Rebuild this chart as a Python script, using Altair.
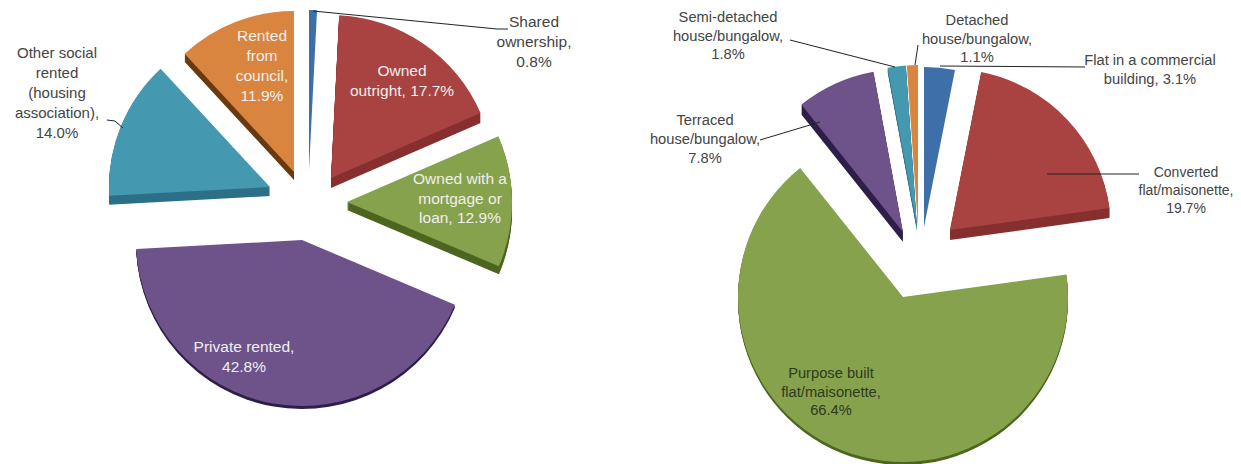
import math
import altair as alt
import pandas as pd

W, H = 1225, 456
FONT = "Liberation Sans"

# Left pie
left_names = ["Shared ownership", "Owned outright", "Owned with a mortgage or loan",
              "Private rented", "Other social rented (housing association)", "Rented from council"]
left_values = [0.8, 17.7, 12.9, 42.8, 14.0, 11.9]
left_colors = ["#3F6FA8", "#A84341", "#87A24D", "#6D5389", "#4498B0", "#D9843F"]
left_dark = ["#2F5585", "#86302F", "#4D6620", "#2E1F4A", "#2C7088", "#6B3A10"]
left_cx = [309, 331, 347, 302, 270, 294]
left_cy = [170, 178, 202, 240, 187, 172]
left_r = [160, 163, 165, 166, 161, 161]
left_depth = [0, 10, 8, 3, 9, 8]

# Right pie
right_names = ["Flat in a commercial building", "Converted flat/maisonette",
               "Purpose built flat/maisonette", "Terraced house/bungalow",
               "Semi-detached house/bungalow", "Detached house/bungalow"]
right_values = [3.1, 19.7, 66.4, 7.8, 1.8, 1.1]
right_colors = ["#3F6FA8", "#A84341", "#87A24D", "#6D5389", "#4498B0", "#D9843F"]
right_dark = ["#2F5585", "#86302F", "#4D6620", "#2E1F4A", "#2C7088", "#6B3A10"]
right_cx = [924, 950, 903, 903, 917, 918]
right_cy = [227, 230, 297, 232, 227, 227]
right_r = [160, 161, 165, 163, 162, 162]
right_depth = [0, 10, 3, 10, 4, 0]

# Labels: lines, centre x, first-line y, line step, colour, font size
labels = [
    (["Shared", "ownership,", "0.8%"], 534, 22, 20, "#444444", 15.5),
    (["Owned", "outright, 17.7%"], 402, 71, 19.5, "#EFEFEF", 15.5),
    (["Owned with a", "mortgage or", "loan, 12.9%"], 460, 179, 19.5, "#EFEFEF", 15.5),
    (["Private rented,", "42.8%"], 244, 347, 20, "#EFEFEF", 15.5),
    (["Other social", "rented", "(housing", "association),", "14.0%"], 57, 53, 20, "#444444", 15),
    (["Rented", "from", "council,", "11.9%"], 262, 36, 20, "#EFEFEF", 15.5),
    (["Semi-detached", "house/bungalow,", "1.8%"], 728, 18, 18.5, "#444444", 14.7),
    (["Detached", "house/bungalow,", "1.1%"], 977, 21, 18.5, "#444444", 14.7),
    (["Flat in a commercial", "building, 3.1%"], 1150, 61, 19, "#444444", 14.7),
    (["Terraced", "house/bungalow,", "7.8%"], 705, 121, 19, "#444444", 14.7),
    (["Converted", "flat/maisonette,", "19.7%"], 1186, 173, 18, "#444444", 14),
    (["Purpose built", "flat/maisonette,", "66.4%"], 831, 374, 18.5, "#2D3A1D", 14.7),
]

# Leader line segments
leaders = [
    (313, 11, 497, 29), (497, 29, 508, 29),
    (107, 120, 115, 121), (115, 121, 123, 128),
    (790, 40, 895, 67),
    (918, 45, 915, 65),
    (940, 66, 1085, 67),
    (760, 140, 820, 122),
    (1047, 174, 1139, 174),
]


def pie_rows(values, colors, dark, cx, cy, r, depth):
    total = sum(values)
    rows, run = [], 0.0
    for i, v in enumerate(values):
        rows.append(dict(start=run / total, end=(run + v) / total, color=colors[i],
                         dark=dark[i], cx=cx[i], cy=cy[i], r=r[i], depth=depth[i]))
        run += v
    return rows


slices = pie_rows(left_values, left_colors, left_dark, left_cx, left_cy, left_r, left_depth) + \
    pie_rows(right_values, right_colors, right_dark, right_cx, right_cy, right_r, right_depth)

side_rows = []
for s in slices:
    for k in range(s["depth"], 0, -1):
        side_rows.append({**s, "cy": s["cy"] + k})

text_rows = []
for lines, x, y, step, color, size in labels:
    for i, line in enumerate(lines):
        text_rows.append(dict(t=line, x=x, y=y + i * step, color=color, size=size))

seg_rows = [dict(x=a, y=b, x2=c, y2=d) for a, b, c, d in leaders]

XS = alt.Scale(domain=[8, 8 + W], range=[0, W], nice=False, zero=False)
YS = alt.Scale(domain=[8, 8 + H], range=[0, H], nice=False, zero=False)
TH = alt.Theta("start:Q", scale=alt.Scale(domain=[0, 1], range=[0, 2 * math.pi]))


def arcs(rows, colour_field):
    return alt.Chart(pd.DataFrame(rows)).mark_arc(stroke=None).encode(
        x=alt.X("cx:Q", axis=None, scale=XS),
        y=alt.Y("cy:Q", axis=None, scale=YS),
        theta=TH, theta2="end:Q",
        radius=alt.Radius("r:Q", scale=None),
        color=alt.Color(f"{colour_field}:N", scale=None),
    )


sides = arcs(side_rows, "dark")
faces = arcs(slices, "color")

rules = alt.Chart(pd.DataFrame(seg_rows)).mark_rule(color="#222222", strokeWidth=1).encode(
    x=alt.X("x:Q", axis=None, scale=XS),
    y=alt.Y("y:Q", axis=None, scale=YS),
    x2="x2:Q", y2="y2:Q",
)

texts = alt.Chart(pd.DataFrame(text_rows)).mark_text(
    font=FONT, align="center", baseline="middle"
).encode(
    x=alt.X("x:Q", axis=None, scale=XS),
    y=alt.Y("y:Q", axis=None, scale=YS),
    text="t:N",
    color=alt.Color("color:N", scale=None),
    size=alt.Size("size:Q", scale=None),
)

chart = alt.layer(sides, faces, rules, texts).properties(
    width=W, height=H, padding=0, background="white",
    autosize=alt.AutoSizeParams(type="none"),
).configure_view(stroke=None)

chart.save("out.html", embed_options={"renderer": "svg", "actions": False})
